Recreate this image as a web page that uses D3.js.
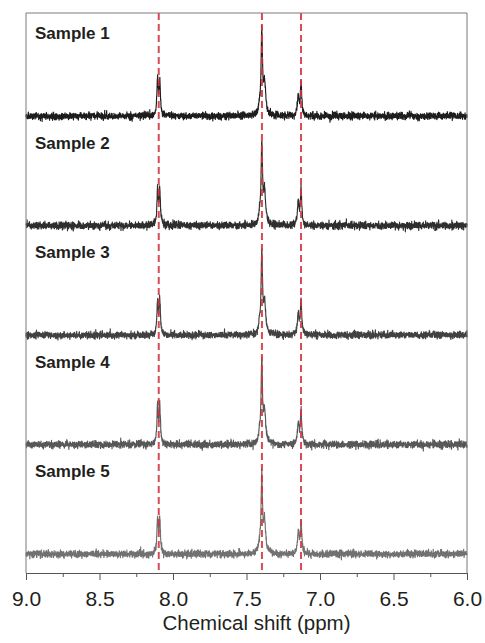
<!DOCTYPE html>
<html>
<head>
<meta charset="utf-8">
<script src="https://cdn.jsdelivr.net/npm/d3@7"></script>
<style>
  html, body { margin: 0; padding: 0; background: #fff; }
  svg { display: block; }
  text { font-family: Arial, "Liberation Sans", Helvetica, sans-serif; }
</style>
</head>
<body>
<div id="chart"></div>
<script>
// ---- data -------------------------------------------------------------
const samples = ["Sample 1", "Sample 2", "Sample 3", "Sample 4", "Sample 5"];
const sampleColors = ["#1f1c1d", "#2e2e2e", "#414141", "#585858", "#717171"];

// Signals (ppm) marked by the dashed reference lines
const refShifts = [8.097, 7.395, 7.129];

// Multiplet lines: position, relative amplitude, half width (ppm), signal index
const lineShift = [8.105, 8.090, 7.412, 7.396, 7.377, 7.148, 7.129];
const lineRel   = [1.00,  0.98,  0.10,  1.00,  0.40,  0.64,  1.00];
const lineHW    = [0.0052, 0.0052, 0.007, 0.0058, 0.009, 0.0062, 0.0058];
const lineGroup = [0, 0, 1, 1, 1, 2, 2];

// Peak height of each signal per sample (7.39 ppm signal = 100)
const peak810 = [45, 45, 44, 49, 45];
const peak739 = [100, 100, 99, 100, 97];
const peak713 = [40, 44, 41, 40, 38];

// Baseline noise level per sample (same units)
const noiseLevel = [2.0, 2.0, 1.9, 2.0, 2.0];

// Axis ticks
const xMajorTicks = [9.0, 8.5, 8.0, 7.5, 7.0, 6.5, 6.0];
const xMinorTicks = [8.75, 8.25, 7.75, 7.25, 6.75, 6.25];
const xDomain = [9.0, 6.0];
const xTitle = "Chemical shift (ppm)";

// ---- layout -----------------------------------------------------------
const W = 485, H = 643;
const plot = { left: 26, right: 467, top: 13, bottom: 573 };

const svg = d3.select("#chart").append("svg")
  .attr("width", W).attr("height", H);

const x = d3.scaleLinear().domain(xDomain).range([plot.left, plot.right]);
const baseY = d3.scalePoint().domain(samples).range([116, 554]);
const yInt = d3.scaleLinear().domain([0, 100]).range([0, -86]);

// ---- spectra ----------------------------------------------------------
const nPts = 3200;
const grid = d3.range(nPts).map(i => xDomain[0] + (xDomain[1] - xDomain[0]) * i / (nPts - 1));

function lorentz(ppm, c, hw) { return hw * hw / ((ppm - c) * (ppm - c) + hw * hw); }

// Unscaled multiplet sums, normalised so each signal's maximum is 1
const groupMax = [0, 0, 0];
d3.range(12000).map(i => 9 - 3 * i / 11999).forEach(p => {
  const s = [0, 0, 0];
  lineShift.forEach((c, k) => { s[lineGroup[k]] += lineRel[k] * lorentz(p, c, lineHW[k]); });
  s.forEach((v, g) => { if (v > groupMax[g]) groupMax[g] = v; });
});

function spectrum(si) {
  const heights = [peak810[si], peak739[si], peak713[si]];
  const rnd = d3.randomNormal.source(d3.randomLcg(0.137 + si * 0.211))(0, noiseLevel[si]);
  return grid.map(p => {
    let v = 0;
    lineShift.forEach((c, k) => {
      const g = lineGroup[k];
      v += heights[g] * lineRel[k] * lorentz(p, c, lineHW[k]) / groupMax[g];
    });
    return { ppm: p, v: v + rnd() };
  });
}

samples.forEach((name, si) => {
  const b = baseY(name);
  const line = d3.line()
    .x(d => x(d.ppm))
    .y(d => b + yInt(d.v));
  svg.append("path")
    .datum(spectrum(si))
    .attr("d", line)
    .attr("fill", "none")
    .attr("stroke", sampleColors[si])
    .attr("stroke-width", 1.15)
    .attr("stroke-linejoin", "round");

  svg.append("text")
    .attr("x", 35)
    .attr("y", b - 77)
    .attr("font-size", 17)
    .attr("font-weight", "bold")
    .attr("fill", "#231f20")
    .text(name);
});

// ---- reference lines --------------------------------------------------
svg.selectAll(".ref").data(refShifts).enter().append("line")
  .attr("class", "ref")
  .attr("x1", d => x(d)).attr("x2", d => x(d))
  .attr("y1", plot.top).attr("y2", plot.bottom)
  .attr("stroke", "#d1323e")
  .attr("stroke-opacity", 0.88)
  .attr("stroke-width", 2)
  .attr("stroke-dasharray", "7,4");

// ---- frame and axis ---------------------------------------------------
svg.append("path")
  .attr("d", `M${plot.left},${plot.bottom}V${plot.top}H${plot.right}V${plot.bottom}`)
  .attr("fill", "none").attr("stroke", "#7a7a7a").attr("stroke-width", 1);

const axis = svg.append("g").attr("transform", `translate(0,${plot.bottom})`);
axis.call(d3.axisBottom(x).tickValues(xMinorTicks).tickSize(4).tickFormat(""))
  .call(g => g.select(".domain").remove());
axis.selectAll("line").attr("stroke", "#555");

const axisMajor = svg.append("g").attr("transform", `translate(0,${plot.bottom})`)
  .call(d3.axisBottom(x).tickValues(xMajorTicks).tickSize(7).tickSizeOuter(0).tickPadding(11)
    .tickFormat(d3.format(".1f")));
axisMajor.select(".domain").attr("stroke", "#555");
axisMajor.selectAll("line").attr("stroke", "#555");
axisMajor.selectAll("text")
  .attr("font-size", 21)
  .attr("font-family", "Arial, 'Liberation Sans', sans-serif")
  .attr("fill", "#231f20");

svg.append("text")
  .attr("x", (plot.left + plot.right) / 2 + 10)
  .attr("y", 630)
  .attr("text-anchor", "middle")
  .attr("font-size", 20.5)
  .attr("fill", "#231f20")
  .text(xTitle);
</script>
</body>
</html>
